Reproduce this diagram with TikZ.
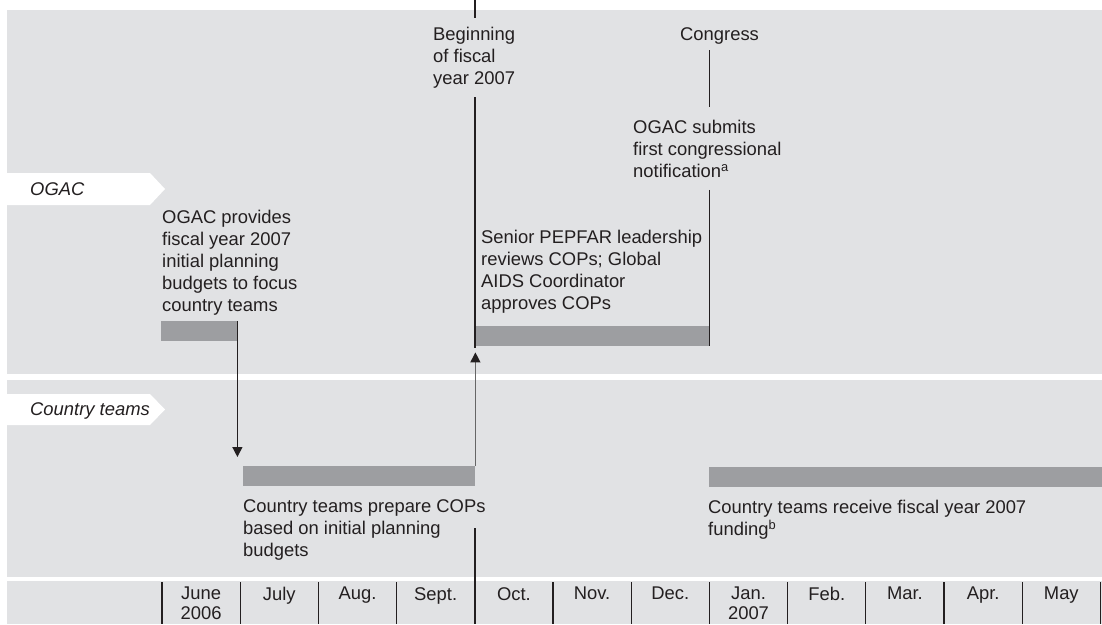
\documentclass[tikz,border=0pt]{standalone}
\usepackage{fontspec}
\setmainfont{Liberation Sans}
\usetikzlibrary{arrows.meta}
\definecolor{panel}{HTML}{E1E2E4}
\definecolor{barfill}{HTML}{9D9EA1}
\definecolor{ink}{HTML}{231F20}
\tikzset{
  every node/.style={font=\fontsize{18.4}{22}\selectfont, text=ink, inner sep=0pt},
  txt/.style={anchor=north west, align=left},
  tagtxt/.style={anchor=base west, font=\fontsize{18.4}{22}\selectfont\itshape},
  month/.style={anchor=north, align=center, font=\fontsize{18.4}{19.5}\selectfont},
  bar/.style={fill=barfill, anchor=north west, minimum height=20pt},
  thin/.style={draw=ink, line width=1.3pt},
  fiscal/.style={draw=ink, line width=2.6pt},
  flow/.style={thin, -{Triangle[length=10pt, width=10pt, color=ink]}},
}

\begin{document}
\begin{tikzpicture}[x=1pt, y=-1pt]

\useasboundingbox (0,0) rectangle (1102,624);

% the three bands
\fill[panel] (7,10) rectangle (1102,374);
\fill[panel] (7,380) rectangle (1102,577);
\fill[panel] (7,581) rectangle (1102,624);

% row tags
\fill[white] (7,173) -- (150,173) -- (165,189) -- (150,205) -- (7,205) -- cycle;
\node[tagtxt] (ogactag) at (30,195) {OGAC};
\fill[white] (7,394) -- (150,394) -- (165,409.5) -- (150,425) -- (7,425) -- cycle;
\node[tagtxt] (teamtag) at (30,415) {Country teams};

% bars
\node[bar, minimum width=76pt] (budgetbar) at (161,321) {};
\node[bar, minimum width=234pt] (reviewbar) at (475,326) {};
\node[bar, minimum width=232pt] (prepbar) at (243,466) {};
\node[bar, minimum width=393pt] (fundbar) at (709,467) {};

% texts
\node[txt] (begin) at (433,27) {Beginning\\of fiscal\\year 2007};
\node[txt] (congress) at (680,27) {Congress};
\node[txt] (submits) at (633,120) {OGAC submits\\first congressional\\notification\textsuperscript{a}};
\node[txt] (provides) at (162,210) {OGAC provides\\fiscal year 2007\\initial planning\\budgets to focus\\country teams};
\node[txt] (review) at (481,230) {Senior PEPFAR leadership\\reviews COPs; Global\\AIDS Coordinator\\approves COPs};
\node[txt] (prepare) at (243,499) {Country teams prepare COPs\\based on initial planning\\budgets};
\node[txt] (receive) at (708,500) {Country teams receive fiscal year 2007\\funding\textsuperscript{b}};

% fiscal year line
\coordinate (fy) at (475,0);
\draw[fiscal] (fy) -- ++(0,18);
\draw[fiscal] (475,97) -- (475,348);
\draw[fiscal] (475,528) -- (475,624);

% congress lines
\draw[thin, shorten <=6pt, shorten >=13pt] (congress.south -| reviewbar.east) -- (submits.north -| reviewbar.east);
\draw[thin, shorten <=12pt] (submits.south -| reviewbar.east) -- (reviewbar.south east);

% arrows
\draw[flow, shorten >=9pt] (budgetbar.north east) -- (budgetbar.north east |- prepbar.north);
\draw[flow, draw=black!60, shorten >=6pt] (prepbar.north east) -- (prepbar.north east |- reviewbar.south);

% months
\foreach \k in {0,...,12}
  \draw[ink, line width=1.2pt] ({162+78.2*\k},582) -- ({162+78.2*\k},624);
\foreach \m [count=\i from 0] in {{June\\2006}, July, Aug., Sept., Oct., Nov., Dec., {Jan.\\2007}, Feb., Mar., Apr., May}
  \node[month] (m\i) at ({162+78.2*(\i+0.5)},587) {\m};

\end{tikzpicture}
\end{document}
